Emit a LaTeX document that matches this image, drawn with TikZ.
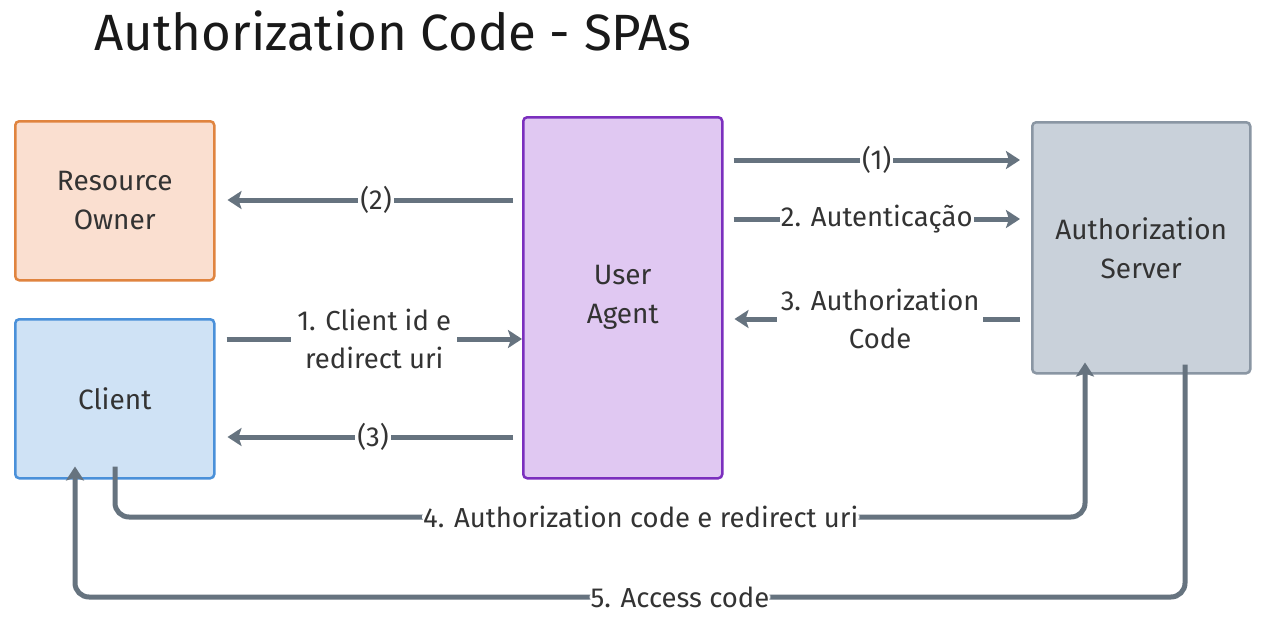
\documentclass[tikz,border=0pt]{standalone}
\usepackage{fontspec}
\setmainfont{Fira Sans}
\usetikzlibrary{arrows.meta}
\definecolor{arr}{HTML}{66737F}
\definecolor{txt}{HTML}{333333}
\definecolor{roF}{HTML}{FADFD0}\definecolor{roD}{HTML}{E0843F}
\definecolor{clF}{HTML}{CFE2F5}\definecolor{clD}{HTML}{4A90D9}
\definecolor{uaF}{HTML}{E0C8F2}\definecolor{uaD}{HTML}{7B2FBE}
\definecolor{asF}{HTML}{C9D1DA}\definecolor{asD}{HTML}{8A96A3}
\tikzset{
  box/.style={draw, line width=2.5pt, rounded corners=4pt, inner sep=0pt, anchor=north west,
    text=txt, font=\fontsize{28}{39}\selectfont, align=center},
  conn/.style={draw=arr, line width=5pt, -{Stealth[length=14pt,width=18pt,inset=3pt]}},
  lab/.style={fill=white, text=txt, font=\fontsize{27.5}{38}\selectfont, inner sep=2pt, align=center},
}
\begin{document}
\begin{tikzpicture}[x=1pt,y=-1pt]
\useasboundingbox (0,0) rectangle (1263,627);
\fill[white] (0,0) rectangle (1263,627);
\node[anchor=west, text=black!90, font=\fontsize{51}{54}\selectfont] (title) at (91,31) {Authorization Code - SPAs};

\node[box, fill=roF, draw=roD, minimum width=199pt, minimum height=159pt] (ro) at (14,120) {Resource\\Owner};
\node[box, fill=clF, draw=clD, minimum width=199pt, minimum height=159pt] (cl) at (14,318) {Client};
\node[box, fill=uaF, draw=uaD, minimum width=199pt, minimum height=361pt] (ua) at (522,116) {User\\Agent};
\node[box, fill=asF, draw=asD, minimum width=218pt, minimum height=251pt] (as) at (1031,121) {Authorization\\Server};

% left side
\coordinate (a2s) at (ua.west |- 0,200);
\coordinate (a2e) at (ro.east |- 0,200);
\draw[conn] ([xshift=-9pt]a2s) -- node[lab, pos=0.48] {(2)} ([xshift=12pt]a2e);

\coordinate (c1s) at (cl.east |- 0,339);
\coordinate (c1e) at (ua.west |- 0,339);
\draw[conn] ([xshift=11pt]c1s) -- node[lab, inner xsep=6pt, pos=0.5] {1. Client id e\\redirect uri} (c1e);

\coordinate (c3s) at (ua.west |- 0,437);
\coordinate (c3e) at (cl.east |- 0,437);
\draw[conn] ([xshift=-9pt]c3s) -- node[lab, pos=0.49] {(3)} ([xshift=12pt]c3e);

% right side
\coordinate (r1s) at (ua.east |- 0,160);
\coordinate (r1e) at (as.west |- 0,160);
\draw[conn] ([xshift=10pt]r1s) -- node[lab, pos=0.5] {(1)} ([xshift=-11pt]r1e);

\coordinate (r2s) at (ua.east |- 0,219);
\coordinate (r2e) at (as.west |- 0,219);
\draw[conn] ([xshift=10pt]r2s) -- node[lab, inner xsep=1pt, pos=0.5] {2. Autenticação} ([xshift=-11pt]r2e);

\coordinate (r3s) at (as.west |- 0,319);
\coordinate (r3e) at (ua.east |- 0,319);
\draw[conn] ([xshift=-11pt]r3s) -- node[lab, inner xsep=4pt, pos=0.49] {3. Authorization\\Code} ([xshift=11pt]r3e);

% bottom loops
\coordinate (b4s) at ([yshift=13pt]cl.south -| 115,0);
\coordinate (b4e) at ([yshift=12pt]as.south -| 1085,0);
\draw[conn, rounded corners=14pt] (b4s) -- (115,517) -- node[lab, inner sep=1pt, pos=0.542] {4. Authorization code e redirect uri} (1085,517) -- (b4e);

\coordinate (b5s) at ([yshift=10pt]as.south -| 1185,0);
\coordinate (b5e) at ([yshift=13pt]cl.south -| 75,0);
\draw[conn, rounded corners=14pt] (b5s) -- (1185,597) -- node[lab, inner sep=1pt, pos=0.455] {5. Access code} (75,597) -- (b5e);
\end{tikzpicture}
\end{document}
